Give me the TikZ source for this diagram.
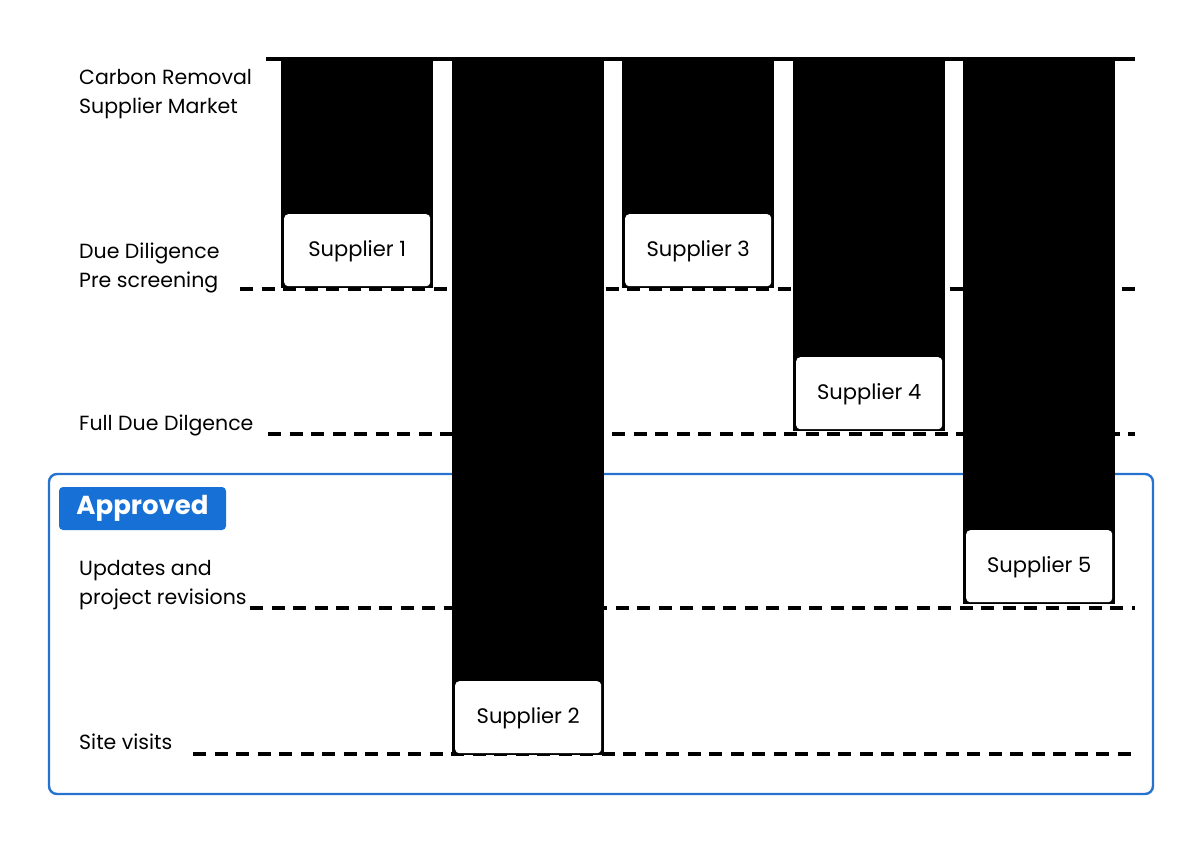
\documentclass[tikz,border=0pt]{standalone}
\usepackage{fontspec}
\setmainfont{Poppins}
\definecolor{apblue}{HTML}{1670D6}
\definecolor{frblue}{HTML}{2572CF}
\begin{document}
\begin{tikzpicture}[x=1pt,y=-1pt,
  bar/.style={fill=black, draw=none, minimum width=152pt, inner sep=0pt, anchor=north west},
  supbox/.style={fill=white, draw=none, rounded corners=4pt, minimum width=146pt, minimum height=72pt,
    inner sep=0pt, text height=16pt, text depth=4pt, anchor=south, font=\fontsize{21}{24}\selectfont},
  lab/.style={anchor=base west, align=left, inner sep=0pt, font=\fontsize{20.5}{29}\selectfont},
  stage/.style={line width=4pt, dash pattern=on 13pt off 8.5pt},
  frame/.style={draw=frblue, line width=2.4pt, rounded corners=8pt},
  badge/.style={fill=apblue, rounded corners=4pt, minimum width=167pt, minimum height=43pt,
    inner sep=0pt, text=white, font=\fontsize{26}{30}\selectfont\bfseries}
]
\useasboundingbox (0,0) rectangle (1203,855);
% approved frame
\draw[frame] (49,474) rectangle (1153,794);
\node[badge] (approved) at (142.5,508.5) {Approved};
% stage lines
\coordinate (d1a) at (240,289); \coordinate (d1b) at (1135,289);
\coordinate (d2a) at (268,434); \coordinate (d2b) at (1135,434);
\coordinate (d3a) at (250,608); \coordinate (d3b) at (1135,608);
\coordinate (d4a) at (193,754); \coordinate (d4b) at (1135,754);
\draw[stage] (d1a) -- (d1b);
\draw[stage] (d2a) -- (d2b);
\draw[stage] (d3a) -- (d3b);
\draw[stage] (d4a) -- (d4b);
% bars
\node[bar, minimum height=230pt] (bar1) at (281,58) {};
\node[bar, minimum height=697pt] (bar2) at (452,58) {};
\node[bar, minimum height=230pt] (bar3) at (622,58) {};
\node[bar, minimum height=373pt] (bar4) at (793,58) {};
\node[bar, minimum height=546pt] (bar5) at (963,58) {};
% top line
\coordinate (ta) at (266,59); \coordinate (tb) at (1135,59);
\draw[line width=4pt] (ta) -- (tb);
% supplier boxes
\node[supbox] (s1) at ([yshift=2pt]bar1.south) {Supplier 1};
\node[supbox] (s2) at ([yshift=2pt]bar2.south) {Supplier 2};
\node[supbox] (s3) at ([yshift=2pt]bar3.south) {Supplier 3};
\node[supbox] (s4) at ([yshift=2pt]bar4.south) {Supplier 4};
\node[supbox] (s5) at ([yshift=2pt]bar5.south) {Supplier 5};
% labels (anchor at baseline of last line)
\node[lab] (l1) at (79,113) {Carbon Removal\\Supplier Market};
\node[lab] (l2) at (79,287) {Due Diligence\\Pre screening};
\node[lab] (l3) at (79,430) {Full Due Dilgence};
\node[lab] (l4) at (79,604) {Updates and\\project revisions};
\node[lab] (l5) at (79,749) {Site visits};
\end{tikzpicture}
\end{document}
